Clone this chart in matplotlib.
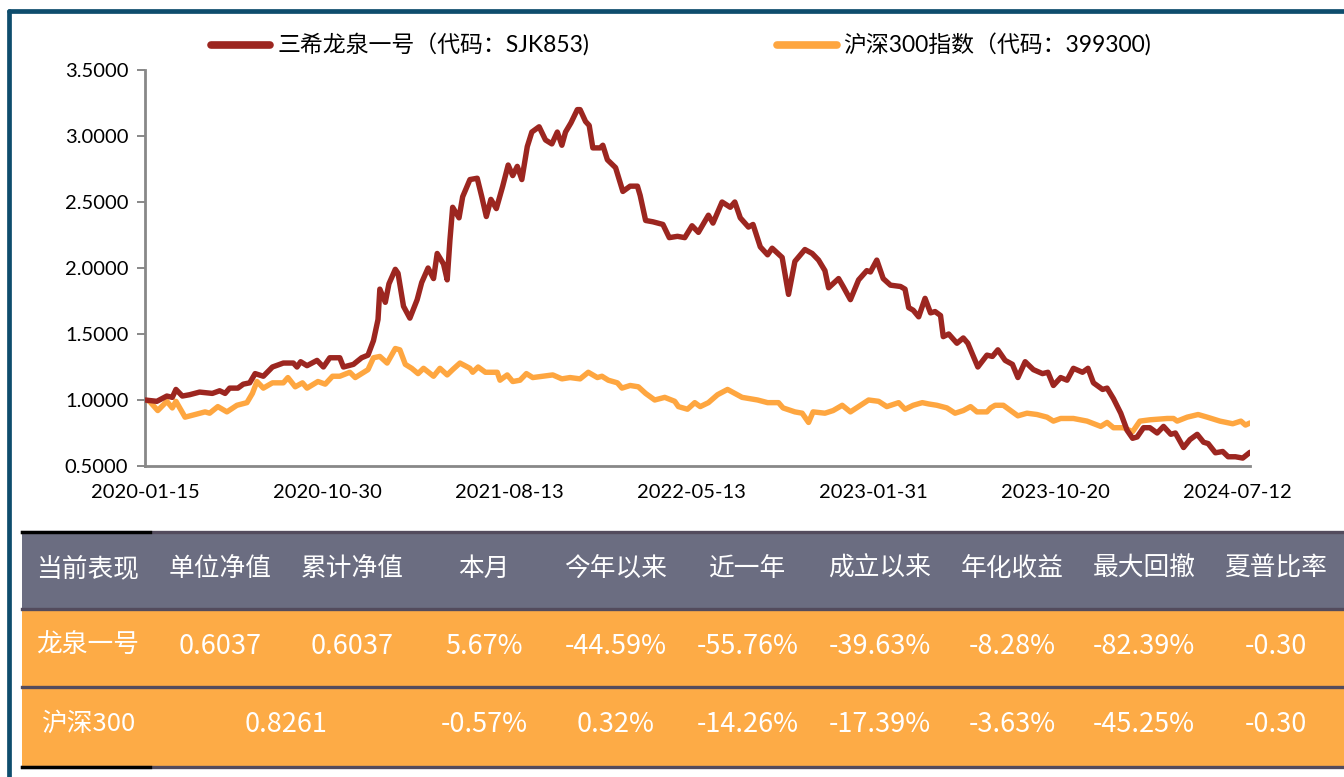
import matplotlib
matplotlib.use("Agg")
import matplotlib.pyplot as plt
from matplotlib.patches import Rectangle
from matplotlib.lines import Line2D

plt.rcParams["font.family"] = ["Lato", "Noto Sans CJK SC", "DejaVu Sans"]

# --------------------------------------------------
# DATA (x = trading-day index from 2020-01-15)
# --------------------------------------------------
fund_day = [0, 13, 24, 30, 34, 41, 49, 60, 74, 82, 88, 93, 102, 108, 115, 121, 130, 140,
            152, 163, 167, 171, 178, 189, 196, 203, 214, 218, 229, 238, 245, 251, 256, 258,
            264, 268, 275, 278, 284, 291, 299, 304, 311, 317, 321, 328, 332, 335, 338, 345,
            349, 357, 365, 370, 375, 380, 386, 393, 399, 404, 409, 414, 420, 425, 433, 440,
            447, 453, 458, 462, 468, 475, 478, 484, 488, 492, 500, 503, 508, 517, 525, 533,
            541, 544, 550, 558, 569, 576, 585, 593, 601, 608, 619, 624, 634, 643, 648, 654,
            663, 668, 676, 684, 689, 700, 707, 714, 725, 733, 740, 747, 751, 762, 767, 775,
            784, 793, 797, 804, 811, 819, 830, 835, 839, 844, 850, 857, 863, 868, 874, 877,
            883, 892, 899, 904, 915, 925, 931, 937, 945, 953, 959, 967, 976, 986, 992, 998,
            1006, 1013, 1020, 1030, 1036, 1042, 1052, 1057, 1064, 1072, 1079, 1085, 1090,
            1097, 1104, 1112, 1119, 1127, 1132, 1141, 1148, 1156, 1163, 1168, 1176, 1184,
            1190, 1198, 1206, 1214]
fund_nav = [1.00, 0.99, 1.03, 1.02, 1.08, 1.03, 1.04, 1.06, 1.05, 1.07, 1.05, 1.09, 1.09,
            1.12, 1.13, 1.20, 1.18, 1.25, 1.28, 1.28, 1.25, 1.29, 1.26, 1.30, 1.25, 1.32,
            1.32, 1.25, 1.27, 1.32, 1.34, 1.45, 1.61, 1.84, 1.74, 1.88, 1.99, 1.96, 1.71,
            1.62, 1.76, 1.89, 2.00, 1.92, 2.11, 2.03, 1.91, 2.21, 2.46, 2.38, 2.54, 2.67,
            2.68, 2.54, 2.39, 2.52, 2.45, 2.62, 2.78, 2.70, 2.77, 2.67, 2.92, 3.03, 3.07,
            2.97, 2.94, 3.03, 2.93, 3.03, 3.10, 3.20, 3.20, 3.11, 3.08, 2.91, 2.91, 2.93,
            2.82, 2.76, 2.58, 2.62, 2.62, 2.55, 2.36, 2.35, 2.33, 2.23, 2.24, 2.23, 2.32,
            2.27, 2.40, 2.34, 2.50, 2.46, 2.50, 2.38, 2.31, 2.33, 2.16, 2.10, 2.15, 2.08,
            1.80, 2.05, 2.14, 2.11, 2.06, 1.98, 1.85, 1.92, 1.86, 1.76, 1.91, 1.98, 1.97,
            2.06, 1.92, 1.87, 1.86, 1.84, 1.70, 1.68, 1.63, 1.77, 1.66, 1.67, 1.64, 1.48,
            1.50, 1.43, 1.47, 1.43, 1.25, 1.34, 1.33, 1.38, 1.30, 1.27, 1.17, 1.29, 1.23,
            1.20, 1.21, 1.11, 1.17, 1.15, 1.24, 1.21, 1.24, 1.13, 1.08, 1.09, 1.01, 0.90,
            0.77, 0.71, 0.72, 0.79, 0.79, 0.75, 0.80, 0.74, 0.75, 0.64, 0.70, 0.74, 0.68,
            0.67, 0.60, 0.61, 0.57, 0.57, 0.56, 0.6037]

index_day = [0, 5, 14, 24, 30, 34, 44, 55, 66, 71, 80, 90, 101, 112, 118, 123, 130, 140,
             152, 157, 165, 173, 178, 190, 198, 206, 214, 225, 231, 238, 245, 251, 258, 266,
             275, 280, 286, 293, 300, 306, 317, 324, 332, 338, 346, 357, 360, 366, 374, 387,
             390, 398, 404, 412, 419, 426, 437, 448, 458, 467, 478, 487, 497, 502, 509, 519,
             524, 533, 542, 550, 560, 571, 582, 586, 596, 604, 610, 619, 629, 640, 648, 656,
             673, 684, 696, 701, 714, 722, 729, 734, 747, 756, 766, 775, 786, 795, 806, 815,
             828, 835, 844, 854, 861, 870, 881, 890, 899, 907, 914, 925, 929, 934, 943, 959,
             969, 980, 991, 998, 1006, 1020, 1035, 1050, 1057, 1064, 1075, 1085, 1093, 1104,
             1123, 1130, 1134, 1145, 1157, 1167, 1181, 1195, 1204, 1209, 1214]
index_nav = [1.00, 0.99, 0.92, 0.99, 0.94, 0.99, 0.87, 0.89, 0.91, 0.90, 0.95, 0.91, 0.96,
             0.98, 1.05, 1.14, 1.09, 1.13, 1.13, 1.17, 1.10, 1.13, 1.09, 1.14, 1.12, 1.18,
             1.18, 1.21, 1.17, 1.20, 1.23, 1.32, 1.33, 1.28, 1.39, 1.38, 1.27, 1.24, 1.20,
             1.24, 1.18, 1.24, 1.19, 1.23, 1.28, 1.24, 1.21, 1.25, 1.21, 1.21, 1.15, 1.19,
             1.14, 1.15, 1.20, 1.17, 1.18, 1.19, 1.16, 1.17, 1.16, 1.21, 1.17, 1.18, 1.15,
             1.13, 1.09, 1.11, 1.10, 1.05, 1.00, 1.02, 0.99, 0.95, 0.93, 0.98, 0.95, 0.98,
             1.04, 1.08, 1.05, 1.02, 1.00, 0.98, 0.98, 0.94, 0.91, 0.90, 0.83, 0.91, 0.90,
             0.92, 0.96, 0.91, 0.96, 1.00, 0.99, 0.95, 0.98, 0.93, 0.96, 0.98, 0.97, 0.96,
             0.94, 0.90, 0.92, 0.95, 0.91, 0.91, 0.94, 0.96, 0.96, 0.88, 0.90, 0.89, 0.87,
             0.84, 0.86, 0.86, 0.84, 0.80, 0.83, 0.79, 0.79, 0.76, 0.84, 0.85, 0.86, 0.86,
             0.84, 0.87, 0.89, 0.87, 0.84, 0.82, 0.84, 0.81, 0.8261]

tick_days = [0, 200, 400, 600, 800, 1000, 1200]
tick_labels = ["2020-01-15", "2020-10-30", "2021-08-13", "2022-05-13",
               "2023-01-31", "2023-10-20", "2024-07-12"]

fund_label = "三希龙泉一号（代码：SJK853)"
index_label = "沪深300指数（代码：399300)"

table_header = ["当前表现", "单位净值", "累计净值", "本月", "今年以来", "近一年",
                "成立以来", "年化收益", "最大回撤", "夏普比率"]
fund_row = ["龙泉一号", "0.6037", "0.6037", "5.67%", "-44.59%", "-55.76%",
            "-39.63%", "-8.28%", "-82.39%", "-0.30"]
index_row = ["沪深300", "0.8261", "-0.57%", "0.32%", "-14.26%", "-17.39%",
             "-3.63%", "-45.25%", "-0.30"]

RED = "#9c2620"
ORANGE = "#fea640"

# --------------------------------------------------
# FIGURE
# --------------------------------------------------
W, H = 1344, 777
fig = plt.figure(figsize=(W / 100, H / 100), dpi=100)


def fx(px):
    return px / W


def fy(py):
    return 1 - py / H


# outer frame
frame = "#0e4d6d"
fig.add_artist(Line2D([fx(9), fx(W + 5)], [fy(10.5), fy(10.5)], color=frame, lw=3.4,
                      solid_capstyle="round"))
fig.add_artist(Line2D([fx(9), fx(9)], [fy(10.5), fy(H + 5)], color=frame, lw=3.4,
                      solid_capstyle="round"))

# --------------------------------------------------
# LINE CHART
# --------------------------------------------------
ax = fig.add_axes([fx(145), fy(466), fx(1250) - fx(145), fy(70) - fy(466)])
ax.plot(index_day, index_nav, color=ORANGE, lw=3.9, solid_joinstyle="round",
        solid_capstyle="round", label=index_label, zorder=2)
ax.plot(fund_day, fund_nav, color=RED, lw=3.9, solid_joinstyle="round",
        solid_capstyle="round", label=fund_label, zorder=3)

ax.set_xlim(0, 1214)
ax.set_ylim(0.5, 3.5)
ax.set_yticks([0.5, 1.0, 1.5, 2.0, 2.5, 3.0, 3.5])
ax.set_yticklabels([f"{v:.4f}" for v in [0.5, 1.0, 1.5, 2.0, 2.5, 3.0, 3.5]])
ax.set_xticks(tick_days)
ax.set_xticklabels(tick_labels)
ax.tick_params(axis="y", length=6, width=1.4, color="#888888", pad=6, labelsize=14.5)
ax.tick_params(axis="x", length=0, pad=13, labelsize=14.5)
for side in ["top", "right"]:
    ax.spines[side].set_visible(False)
for side in ["left", "bottom"]:
    ax.spines[side].set_color("#888888")
    ax.spines[side].set_linewidth(2)
ax.set_facecolor("none")

handles = [Line2D([0], [0], color=RED, lw=5.5, solid_capstyle="round"),
           Line2D([0], [0], color=ORANGE, lw=5.5, solid_capstyle="round")]
fig.legend(handles, [fund_label, index_label], loc="center",
           bbox_to_anchor=(fx(681), fy(45)), ncol=2, frameon=False, fontsize=16.5,
           handlelength=2.6, handletextpad=0.3, columnspacing=8.2)

# --------------------------------------------------
# TABLE
# --------------------------------------------------
x0, col_w = 22, 132
n_cols = len(table_header)
header_top, header_bot = 532, 609
row1_bot, row2_bot = 687, 767
header_color = "#6b6d81"
row_color = "#fdab46"
line_color = "#534b5d"

fig.add_artist(Rectangle((fx(x0), fy(header_bot)), fx(W) - fx(x0), fy(header_top) - fy(header_bot),
                         transform=fig.transFigure, facecolor=header_color, edgecolor="none"))
fig.add_artist(Rectangle((fx(x0), fy(row2_bot)), fx(W) - fx(x0), fy(header_bot) - fy(row2_bot),
                         transform=fig.transFigure, facecolor=row_color, edgecolor="none"))

for yline in [header_top, header_bot, row1_bot, row2_bot]:
    fig.add_artist(Line2D([fx(x0), fx(W)], [fy(yline), fy(yline)], color=line_color, lw=2.4))
for yline in [header_top, row2_bot]:
    fig.add_artist(Line2D([fx(x0), fx(x0 + 128)], [fy(yline), fy(yline)], color="black", lw=2.4))

centers = [x0 + col_w * (i + 0.5) for i in range(n_cols)]
cell_font = dict(color="white", fontsize=18.5, ha="center", va="center",
                 family=["Noto Sans CJK SC", "DejaVu Sans"])
num_font = dict(cell_font, fontsize=19.5)


def cell_style(txt):
    # numbers render a touch larger than the CJK labels
    return num_font if txt[-1].isdigit() or txt.endswith("%") else cell_font


for c, txt in zip(centers, table_header):
    fig.text(fx(c), fy(569), txt, **cell_font)
for c, txt in zip(centers, fund_row):
    fig.text(fx(c), fy(646), txt, **cell_style(txt) if c != centers[0] else cell_font)

# second row: NAV spans the two NAV columns
index_centers = [centers[0], (centers[1] + centers[2]) / 2] + centers[3:]
for c, txt in zip(index_centers, index_row):
    fig.text(fx(c), fy(724), txt, **cell_style(txt) if c != centers[0] else cell_font)

fig.savefig("out.png", dpi=100)
plt.close(fig)
